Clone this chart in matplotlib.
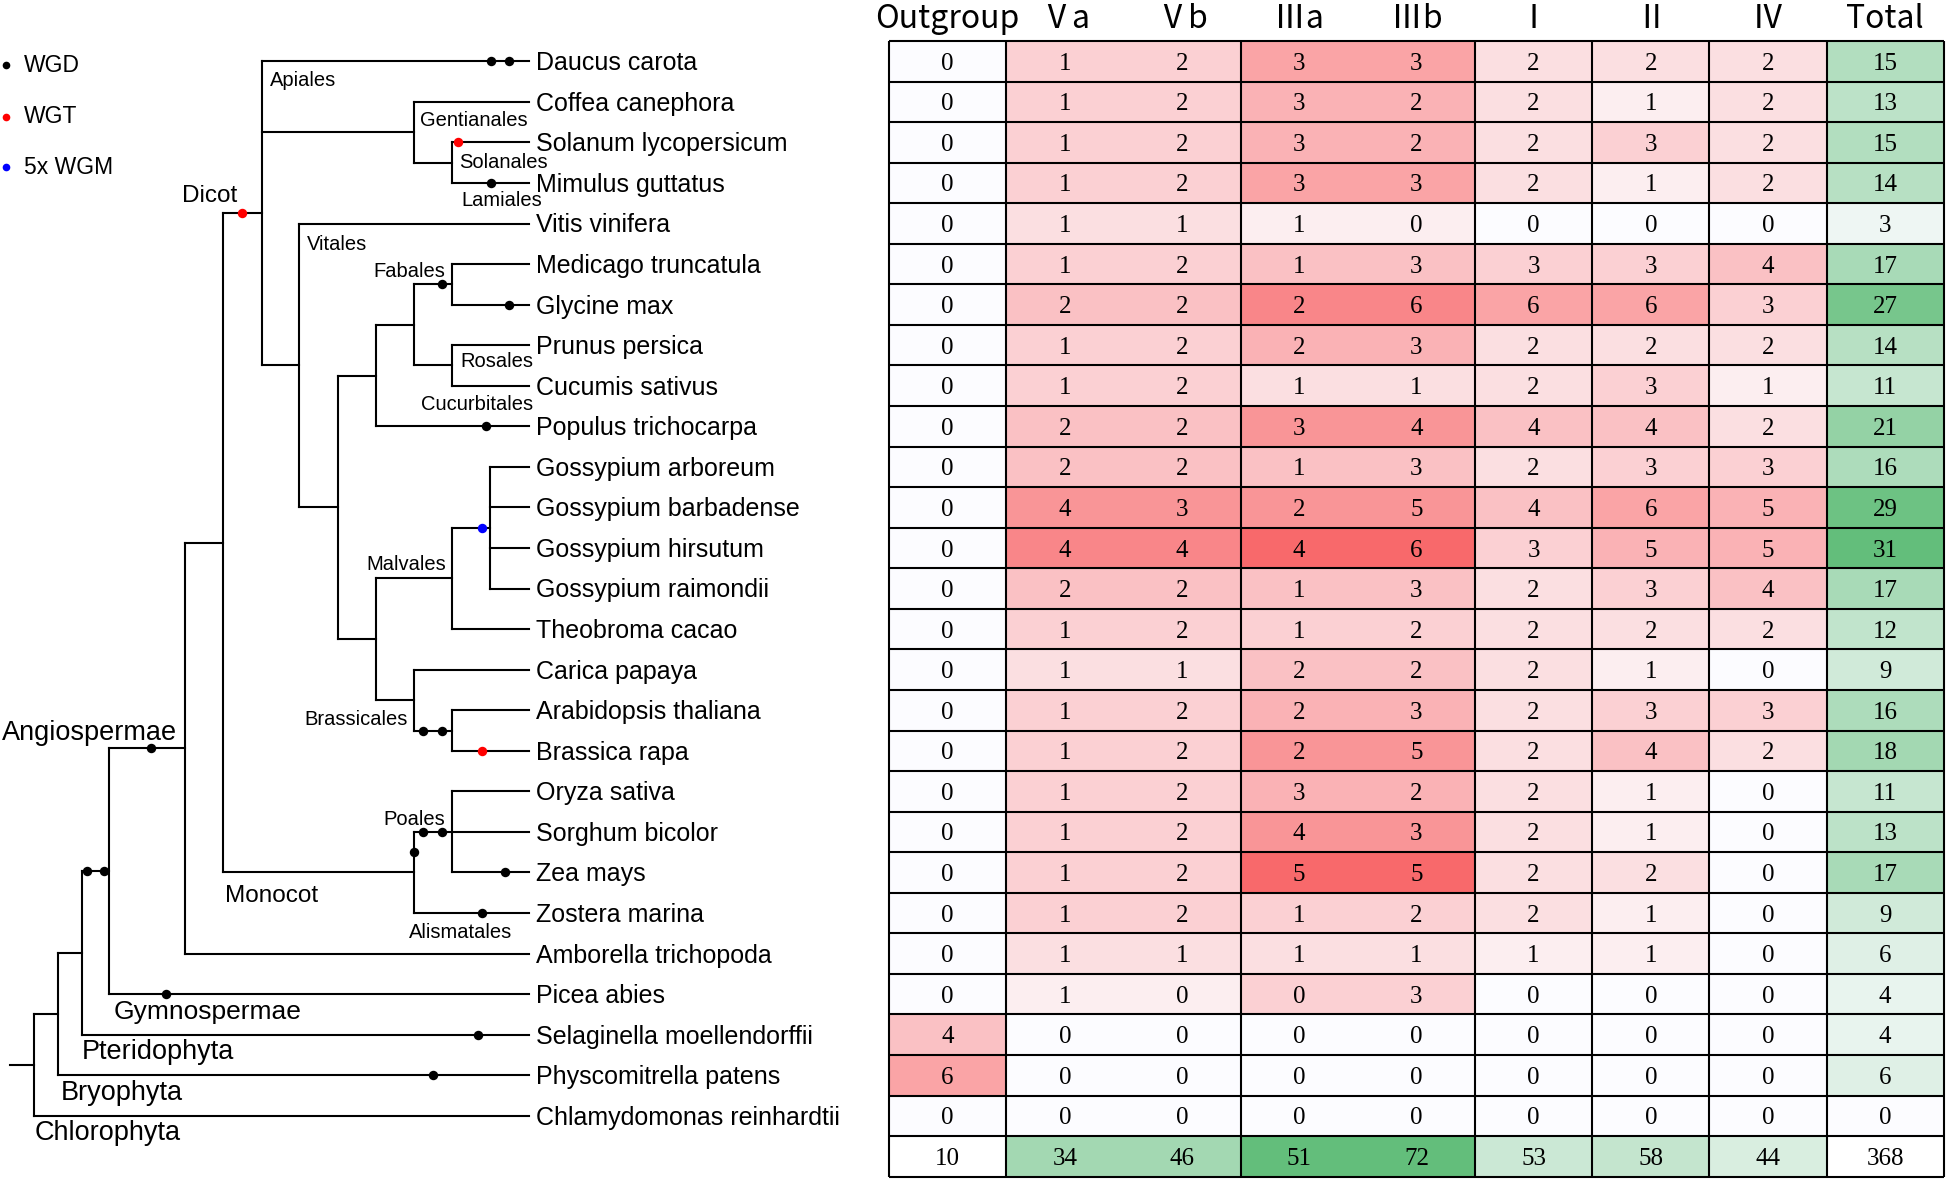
import matplotlib
matplotlib.use("Agg")
import matplotlib.pyplot as plt
from matplotlib.patches import Rectangle
from matplotlib.colors import LinearSegmentedColormap, Normalize

plt.rcParams['font.family'] = ['Liberation Sans', 'DejaVu Sans']

# ---------------- data ----------------
species = ["Daucus carota", "Coffea canephora", "Solanum lycopersicum", "Mimulus guttatus",
           "Vitis vinifera", "Medicago truncatula", "Glycine max", "Prunus persica",
           "Cucumis sativus", "Populus trichocarpa", "Gossypium arboreum", "Gossypium barbadense",
           "Gossypium hirsutum", "Gossypium raimondii", "Theobroma cacao", "Carica papaya",
           "Arabidopsis thaliana", "Brassica rapa", "Oryza sativa", "Sorghum bicolor", "Zea mays",
           "Zostera marina", "Amborella trichopoda", "Picea abies", "Selaginella moellendorffii",
           "Physcomitrella patens", "Chlamydomonas reinhardtii"]

columns = ["Outgroup", "Ⅴa", "Ⅴb", "Ⅲa", "Ⅲb", "Ⅰ", "Ⅱ", "Ⅳ", "Total"]

outgroup = [0, 0, 0, 0, 0, 0, 0, 0, 0, 0, 0, 0, 0, 0, 0, 0, 0, 0, 0, 0, 0, 0, 0, 0, 4, 6, 0]
va       = [1, 1, 1, 1, 1, 1, 2, 1, 1, 2, 2, 4, 4, 2, 1, 1, 1, 1, 1, 1, 1, 1, 1, 1, 0, 0, 0]
vb       = [2, 2, 2, 2, 1, 2, 2, 2, 2, 2, 2, 3, 4, 2, 2, 1, 2, 2, 2, 2, 2, 2, 1, 0, 0, 0, 0]
iiia     = [3, 3, 3, 3, 1, 1, 2, 2, 1, 3, 1, 2, 4, 1, 1, 2, 2, 2, 3, 4, 5, 1, 1, 0, 0, 0, 0]
iiib     = [3, 2, 2, 3, 0, 3, 6, 3, 1, 4, 3, 5, 6, 3, 2, 2, 3, 5, 2, 3, 5, 2, 1, 3, 0, 0, 0]
grp_i    = [2, 2, 2, 2, 0, 3, 6, 2, 2, 4, 2, 4, 3, 2, 2, 2, 2, 2, 2, 2, 2, 2, 1, 0, 0, 0, 0]
grp_ii   = [2, 1, 3, 1, 0, 3, 6, 2, 3, 4, 3, 6, 5, 3, 2, 1, 3, 4, 1, 1, 2, 1, 1, 0, 0, 0, 0]
grp_iv   = [2, 2, 2, 2, 0, 4, 3, 2, 1, 2, 3, 5, 5, 4, 2, 0, 3, 2, 0, 0, 0, 0, 0, 0, 0, 0, 0]
total    = [15, 13, 15, 14, 3, 17, 27, 14, 11, 21, 16, 29, 31, 17, 12, 9, 16, 18, 11, 13, 17, 9, 6, 4, 4, 6, 0]
col_totals = [10, 34, 46, 51, 72, 53, 58, 44, 368]

# tree topology (leaf = species index)
tree = ("root", [
    ("land", [
        ("vasc", [
            ("seed", [
                ("angio", [
                    ("mesangio", [
                        ("dicot", [0,
                                   ("asterid", [1, ("solam", [2, 3])]),
                                   ("vitales", [4,
                                                ("rosids", [
                                                    ("fabids", [("fabrosa", [("fabales", [5, 6]),
                                                                             ("rosales", [7, 8])]), 9]),
                                                    ("malvids", [("malvales", [("goss", [10, 11, 12, 13]), 14]),
                                                                 ("brass", [15, ("arabra", [16, 17])])])])])]),
                        ("monocot", [("poales", [18, 19, 20]), 21])]),
                    22]),
                23]),
            24]),
        25]),
    26])

# polyploidy events: (type, branch target, position along branch)
events = [("WGD", 0, 491), ("WGD", 0, 509), ("WGT", 2, 458), ("WGD", 3, 491),
          ("WGT", "dicot", 242), ("WGD", "fabales", 442), ("WGD", 6, 509), ("WGD", 9, 486),
          ("WGM", "goss", 482), ("WGD", "arabra", 423), ("WGD", "arabra", 442), ("WGT", 17, 482),
          ("WGD", "poales", 423), ("WGD", "poales", 442), ("WGD", 20, 505), ("WGD", 21, 482),
          ("WGD", "angio", 151), ("WGD", "seed", 86.5), ("WGD", "seed", 103.5),
          ("WGD", 23, 166), ("WGD", 24, 478), ("WGD", 25, 433)]

# ---------------- layout ----------------
W, H = 1946, 1180
ROW0_PX, ROW_PX = 41.0, 40.56
TIP_X = 529
ROOT_STUB_X = 10
node_x = {"root": 34, "land": 58, "vasc": 82, "seed": 109, "angio": 185, "mesangio": 223,
          "dicot": 262, "asterid": 414, "solam": 452, "vitales": 299, "rosids": 337.5,
          "fabids": 376, "fabrosa": 414, "fabales": 452, "rosales": 452, "malvids": 376,
          "malvales": 452, "goss": 490, "brass": 414, "arabra": 452, "monocot": 414, "poales": 452}
ev_color = {"WGD": "black", "WGT": "#ff0000", "WGM": "#0000ff"}
TX0, CW = 889.0, 117.2
LW_TREE = 1.5

fig = plt.figure(figsize=(W / 100, H / 100), dpi=100)
ax = fig.add_axes([0, 0, 1, 1])
ax.set_xlim(0, W)
ax.set_ylim((H - ROW0_PX) / ROW_PX - 0.5, -ROW0_PX / ROW_PX - 0.5)
ax.axis("off")

def px2row(p):
    return (p - ROW0_PX) / ROW_PX - 0.5

# ---------------- tree ----------------
node_y = {}
line_kw = dict(color="black", lw=LW_TREE, solid_capstyle="projecting", zorder=2)

def draw(node):
    if isinstance(node, int):
        return float(node)
    name, kids = node
    ys = [draw(k) for k in kids]
    y = (ys[0] + ys[-1]) / 2
    node_y[name] = y
    x = node_x[name]
    ax.plot([x, x], [ys[0], ys[-1]], **line_kw)
    for k, yk in zip(kids, ys):
        xk = TIP_X if isinstance(k, int) else node_x[k[0]]
        ax.plot([x, xk], [yk, yk], **line_kw)
    return y

root_y = draw(tree)
ax.plot([ROOT_STUB_X, node_x["root"]], [root_y, root_y], **line_kw)

for kind, tgt, x in events:
    y = float(tgt) if isinstance(tgt, int) else node_y[tgt]
    ax.plot(x, y, "o", ms=6.8, color=ev_color[kind], mec="none", zorder=3)
# WGD on the monocot stem (vertical segment)
ax.plot(node_x["monocot"], (node_y["poales"] + node_y["monocot"]) / 2, "o", ms=6.8,
        color="black", mec="none", zorder=3)

for i, s in enumerate(species):
    ax.text(TIP_X + 7, i + 0.22, s, fontsize=18, ha="left", va="baseline")

order_labels = [("Apiales", 270, 80), ("Gentianales", 419.6, 120), ("Solanales", 459.6, 162.3),
                ("Lamiales", 461.4, 201), ("Vitales", 307, 244), ("Fabales", 373, 271.7),
                ("Rosales", 460.7, 361.7), ("Cucurbitales", 420.7, 404), ("Malvales", 366, 564.3),
                ("Brassicales", 304, 719.3), ("Poales", 383, 819.3), ("Alismatales", 409, 932.7)]
for t, x, y in order_labels:
    ax.text(x, px2row(y), t, fontsize=14.5, ha="left", va="center")
big_labels = [("Dicot", 182, 196, 17.5), ("Monocot", 225, 896, 17.5), ("Angiospermae", 1.8, 732.7, 19.5),
              ("Gymnospermae", 113.6, 1011.7, 19), ("Pteridophyta", 81.4, 1051.7, 19.5),
              ("Bryophyta", 60.7, 1092.7, 19.5), ("Chlorophyta", 34.3, 1132.7, 19.5)]
for t, x, y, fs in big_labels:
    ax.text(x, px2row(y), t, fontsize=fs, ha="left", va="center")

# legend
for (kind, label), yp in zip([("WGD", "WGD"), ("WGT", "WGT"), ("WGM", "5x WGM")], [65, 116.7, 167]):
    ax.plot(5.5, px2row(yp), "o", ms=5.5, color=ev_color[kind], mec="none", clip_on=False)
    ax.text(24, px2row(yp), label, fontsize=16.5, ha="left", va="center")

# ---------------- table ----------------
red = LinearSegmentedColormap.from_list("r", ["#FCFCFF", "#F8696B"])
green = LinearSegmentedColormap.from_list("g", ["#FCFCFF", "#63BE7B"])
rnorm, tnorm, bnorm = Normalize(0, 10), Normalize(0, 31), Normalize(20, 123)
n = len(species)
v_sum = [a + b for a, b in zip(va, vb)]
iii_sum = [a + b for a, b in zip(iiia, iiib)]
spans = [(0, 1, outgroup), (1, 3, v_sum), (3, 5, iii_sum), (5, 6, grp_i), (6, 7, grp_ii), (7, 8, grp_iv)]

for r in range(n):
    for c0, c1, vals in spans:
        ax.add_patch(Rectangle((TX0 + c0 * CW, r - 0.5), (c1 - c0) * CW, 1,
                               fc=red(rnorm(vals[r])), ec="none", zorder=1))
    ax.add_patch(Rectangle((TX0 + 8 * CW, r - 0.5), CW, 1, fc=green(tnorm(total[r])), ec="none", zorder=1))

bottom_vals = [None, col_totals[1] + col_totals[2], col_totals[3] + col_totals[4],
               col_totals[5], col_totals[6], col_totals[7], None]
bottom_spans = [(0, 1), (1, 3), (3, 5), (5, 6), (6, 7), (7, 8), (8, 9)]
for (c0, c1), v in zip(bottom_spans, bottom_vals):
    fc = "white" if v is None else green(bnorm(v))
    ax.add_patch(Rectangle((TX0 + c0 * CW, n - 0.5), (c1 - c0) * CW, 1, fc=fc, ec="none", zorder=1))

table = [outgroup, va, vb, iiia, iiib, grp_i, grp_ii, grp_iv, total]
for c, col in enumerate(table):
    xc = TX0 + (c + 0.5) * CW
    for r in range(n):
        ax.text(xc, r + 0.21, str(col[r]), fontsize=18, ha="center", va="baseline",
                family=["Liberation Serif"], zorder=4)
    ax.text(xc, n + 0.21, str(col_totals[c]), fontsize=18, ha="center", va="baseline",
            family=["Liberation Serif"], zorder=4)
    ax.text(xc, px2row(28), columns[c], fontsize=23, ha="center", va="baseline",
            family=["Noto Sans CJK SC", "DejaVu Sans"])

ax.hlines([r - 0.5 for r in range(n + 2)], TX0, TX0 + 9 * CW, color="black", lw=1.5, zorder=5)
ax.vlines([TX0 + c * CW for c in [0, 1, 3, 5, 6, 7, 8, 9]], -0.5, n + 0.5, color="black", lw=1.5, zorder=5)

fig.savefig("out.png", dpi=100)
